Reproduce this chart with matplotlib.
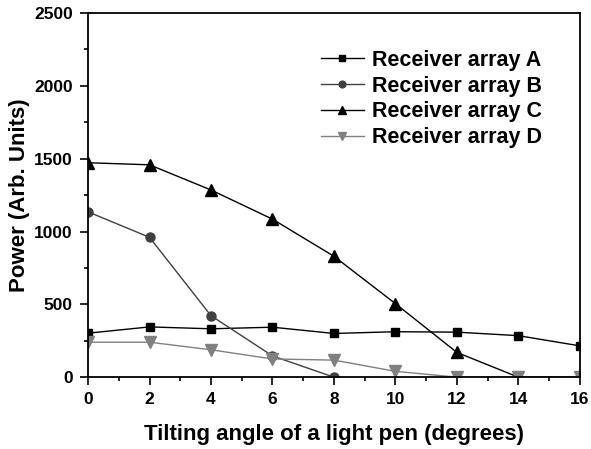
import numpy as np
import matplotlib.pyplot as plt
from matplotlib.ticker import MultipleLocator

plt.rcParams['font.family'] = 'Liberation Sans'
plt.rcParams['font.weight'] = 'bold'

angle = [0, 2, 4, 6, 8, 10, 12, 14, 16]
array_a = [302, 345, 332, 343, 300, 312, 309, 285, 215]
array_b = [1135, 960, 422, 146, 0]
array_c = [1472, 1458, 1285, 1085, 830, 505, 170, 0, 0]
array_d = [240, 240, 188, 125, 117, 40, 0, 0, 0]

fig = plt.figure(figsize=(5.91, 4.49), dpi=100)
ax = fig.add_axes([0.149, 0.160, 0.832, 0.811])

ax.plot(angle, array_a, color='black', marker='s', ms=6, lw=1.0, label='Receiver array A')
ax.plot(angle[:len(array_b)], array_b, color='#404040', marker='o', ms=6.5, lw=1.0, label='Receiver array B')
ax.plot(angle, array_c, color='black', marker='^', ms=8, lw=1.0, label='Receiver array C')
ax.plot(angle, array_d, color='#808080', marker='v', ms=8, lw=1.0, label='Receiver array D')

ax.set_xlim(0, 16)
ax.set_ylim(0, 2500)
ax.xaxis.set_major_locator(MultipleLocator(2))
ax.xaxis.set_minor_locator(MultipleLocator(1))
ax.yaxis.set_major_locator(MultipleLocator(500))
ax.yaxis.set_minor_locator(MultipleLocator(250))
ax.tick_params(which='both', direction='out', width=1.2, labelsize=12.5)
ax.tick_params(which='major', length=6, pad=5)
ax.tick_params(which='minor', length=3)
for s in ax.spines.values():
    s.set_linewidth(1.3)
for lab in ax.get_xticklabels() + ax.get_yticklabels():
    lab.set_fontweight('bold')

ax.set_xlabel('Tilting angle of a light pen (degrees)', fontsize=16, fontweight='bold', labelpad=12)
ax.set_ylabel('Power (Arb. Units)', fontsize=16, fontweight='bold', labelpad=3)

ax.legend(loc='upper right', bbox_to_anchor=(0.963, 0.952), frameon=False,
          prop={'weight': 'bold', 'size': 15.5}, handlelength=2.0,
          labelspacing=0.22, handletextpad=0.4, markerscale=0.75)

fig.savefig('out.png', dpi=100)
